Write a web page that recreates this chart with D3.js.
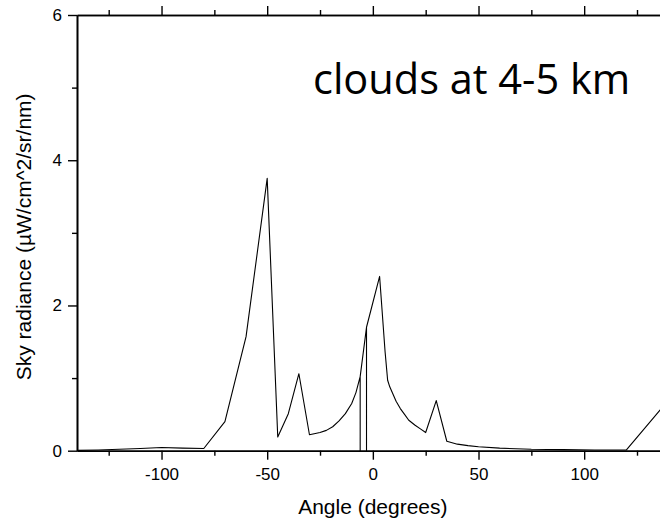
<!DOCTYPE html>
<html>
<head>
<meta charset="utf-8">
<script src="https://cdn.jsdelivr.net/npm/d3@7"></script>
<style>
  html, body { margin: 0; padding: 0; background: #fff; overflow: hidden; }
  svg { display: block; }
</style>
</head>
<body>
<div id="chart"></div>
<script>
// Sky radiance vs viewing angle
const angles = [
  -140, -130, -120, -110, -100, -90, -80, -70, -60, -50,
  -45, -40, -35, -30, -25, -22, -19, -16, -13, -10,
  -8, -6, -6, -6, -3, -3, -3, 3.2, 5.8, 7,
  8, 9.5, 11, 13, 15, 17, 20, 22.5, 25, 30,
  35, 40, 45, 50, 60, 75, 90, 105, 120, 140
];
const radiance = [
  0.005, 0.01, 0.02, 0.03, 0.045, 0.035, 0.03, 0.40, 1.57, 3.75,
  0.19, 0.51, 1.06, 0.22, 0.25, 0.28, 0.33, 0.41, 0.51, 0.65,
  0.80, 1.02, 0, 1.02, 1.70, 0, 1.70, 2.40, 1.36, 0.97,
  0.88, 0.78, 0.68, 0.58, 0.50, 0.42, 0.35, 0.30, 0.25, 0.69,
  0.13, 0.09, 0.07, 0.055, 0.035, 0.02, 0.015, 0.01, 0.01, 0.70
];

const xMajorTicks = [-100, -50, 0, 50, 100];
const xMinorTicks = [-125, -75, -25, 25, 75, 125];
const yMajorTicks = [0, 2, 4, 6];
const yMinorTicks = [1, 3, 5];

const xTitle = 'Angle (degrees)';
const yTitle = 'Sky radiance (µW/cm^2/sr/nm)';
const note = 'clouds at 4-5 km';

const WIDTH = 660;
const HEIGHT = 520;

const AXIS_FONT = '"Liberation Sans", Arial, sans-serif';

const svg = d3.select('#chart').append('svg')
  .attr('width', WIDTH)
  .attr('height', HEIGHT);

const x = d3.scaleLinear()
  .domain([-140, 140])
  .range([77, 668.7]);

const y = d3.scaleLinear()
  .domain([0, 6])
  .range([450.7, 15]);

const points = angles.map((a, i) => [a, radiance[i]]);

const line = d3.line()
  .x(d => x(d[0]))
  .y(d => y(d[1]));

svg.append('path')
  .datum(points)
  .attr('fill', 'none')
  .attr('stroke', '#000')
  .attr('stroke-width', 1.1)
  .attr('stroke-linejoin', 'round')
  .attr('d', line);

// plain hyphen minus, like the original
const plain = d => `${d}`;

function styleAxis(g, showLabels) {
  g.select('.domain').attr('stroke', '#000').attr('stroke-width', 1.6);
  g.selectAll('.tick line').attr('stroke', '#000').attr('stroke-width', 1.4);
  g.selectAll('.tick text')
    .attr('fill', '#000')
    .style('font-family', AXIS_FONT)
    .style('font-size', '17px');
  if (!showLabels) g.selectAll('.tick text').remove();
}

// bottom
svg.append('g')
  .attr('transform', `translate(0, ${y(0)})`)
  .call(d3.axisBottom(x).tickValues(xMinorTicks).tickSize(5).tickSizeOuter(0))
  .call(g => styleAxis(g, false));
svg.append('g')
  .attr('transform', `translate(0, ${y(0)})`)
  .call(d3.axisBottom(x).tickValues(xMajorTicks).tickSize(9).tickPadding(8)
    .tickSizeOuter(0).tickFormat(plain))
  .call(g => styleAxis(g, true));

// top
svg.append('g')
  .attr('transform', `translate(0, ${y(6)})`)
  .call(d3.axisTop(x).tickValues(xMinorTicks).tickSize(5).tickSizeOuter(0))
  .call(g => styleAxis(g, false));
svg.append('g')
  .attr('transform', `translate(0, ${y(6)})`)
  .call(d3.axisTop(x).tickValues(xMajorTicks).tickSize(9).tickSizeOuter(0))
  .call(g => styleAxis(g, false));

// left
svg.append('g')
  .attr('transform', `translate(${x(-140)}, 0)`)
  .call(d3.axisLeft(y).tickValues(yMinorTicks).tickSize(5).tickSizeOuter(0))
  .call(g => styleAxis(g, false));
svg.append('g')
  .attr('transform', `translate(${x(-140)}, 0)`)
  .call(d3.axisLeft(y).tickValues(yMajorTicks).tickSize(9).tickPadding(6)
    .tickSizeOuter(0).tickFormat(plain))
  .call(g => styleAxis(g, true));

// titles
svg.append('text')
  .attr('x', x(0))
  .attr('y', 514)
  .attr('text-anchor', 'middle')
  .style('font-family', AXIS_FONT)
  .style('font-size', '21px')
  .text(xTitle);

svg.append('text')
  .attr('transform', `translate(31, ${(y(0) + y(6)) / 2 + 4}) rotate(-90)`)
  .attr('text-anchor', 'middle')
  .style('font-family', AXIS_FONT)
  .style('font-size', '21px')
  .text(yTitle);

svg.append('text')
  .attr('x', 313)
  .attr('y', 94)
  .style('font-family', '"Open Sans", "Noto Sans", sans-serif')
  .style('font-size', '41.5px')
  .attr('fill', '#000')
  .text(note);
</script>
</body>
</html>
